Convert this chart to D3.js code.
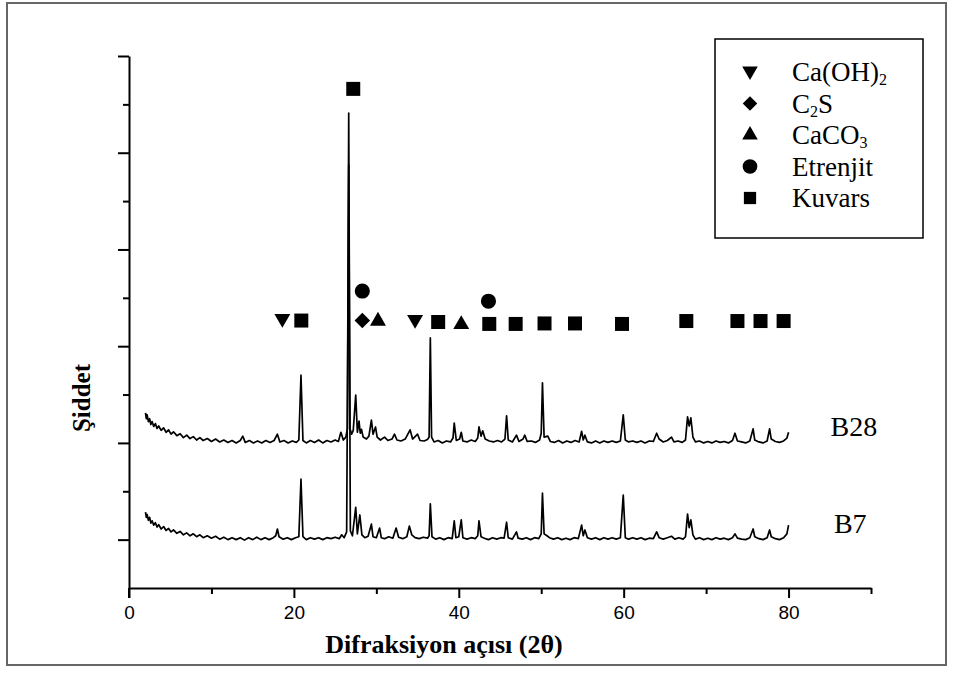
<!DOCTYPE html>
<html>
<head>
<meta charset="utf-8">
<script src="https://d3js.org/d3.v7.min.js"></script>
<style>
  body { margin: 0; background: #fff; }
</style>
</head>
<body>
<div id="my_dataviz"></div>
<script>
// XRD patterns, [2theta, counts]
var b7 = [
  [2.0,157],[2.1,146],[2.2,152],[2.35,140],[2.5,146],[2.65,134],[2.8,139],[3.0,130],[3.2,135],[3.4,126],[3.6,131],[3.9,122],[4.2,127],[4.5,119],[4.8,123],[5.1,116],[5.4,120],[5.8,113],[6.2,117],[6.6,110],[7.0,114],[7.4,108],[7.8,112],[8.2,106],[8.6,110],[9.0,104],[9.5,108],[10.0,103],[10.5,107],[11.0,101],[11.5,105],[12.0,100],[12.5,104],[13.0,100],[13.5,104],[14.0,99],[14.5,104],[15.0,100],[15.5,105],[16.0,100],[16.5,104],[17.0,100],[17.5,104],[17.8,108],[18.0,122],[18.2,106],[18.7,101],[19.2,104],[19.7,100],[20.2,104],[20.6,106],[20.86,225],[21.1,106],[21.5,100],[22.0,104],[22.5,101],[23.0,104],[23.5,100],[24.0,104],[24.5,102],[25.0,105],[25.5,102],[25.8,110],[26.1,104],[26.4,116],[26.65,875],[26.85,118],[27.1,108],[27.5,167],[27.7,112],[28.0,151],[28.25,110],[28.6,104],[29.0,107],[29.4,132],[29.6,106],[30.0,104],[30.4,124],[30.6,104],[31.0,102],[31.5,106],[32.0,103],[32.4,124],[32.7,105],[33.2,102],[33.7,106],[34.0,128],[34.3,110],[34.7,104],[35.2,102],[35.7,105],[36.2,103],[36.4,108],[36.55,174],[36.75,106],[37.2,101],[37.7,104],[38.2,100],[38.7,104],[39.2,102],[39.45,139],[39.65,104],[40.0,106],[40.3,141],[40.5,104],[41.0,101],[41.5,104],[42.0,102],[42.3,108],[42.45,139],[42.7,106],[43.1,103],[43.6,100],[44.1,104],[44.6,101],[45.1,104],[45.5,103],[45.8,136],[46.0,104],[46.5,101],[47.0,116],[47.2,103],[47.7,101],[48.2,104],[48.7,100],[49.2,104],[49.7,102],[50.0,112],[50.15,196],[50.35,112],[50.7,108],[51.0,104],[51.5,101],[52.0,104],[52.5,100],[53.0,103],[53.5,100],[54.0,104],[54.5,102],[54.9,130],[55.1,108],[55.3,120],[55.6,104],[56.1,101],[56.6,104],[57.1,100],[57.6,104],[58.1,101],[58.6,104],[59.1,101],[59.6,104],[59.95,192],[60.2,104],[60.6,101],[61.1,104],[61.6,101],[62.1,104],[62.6,100],[63.1,103],[63.6,102],[64.0,116],[64.3,104],[64.8,101],[65.3,104],[65.8,107],[66.2,101],[66.7,104],[67.2,101],[67.5,106],[67.75,153],[67.95,125],[68.15,141],[68.4,110],[68.7,101],[69.2,104],[69.7,100],[70.2,103],[70.7,100],[71.2,104],[71.7,101],[72.2,103],[72.7,100],[73.2,104],[73.5,112],[73.8,103],[74.3,101],[74.8,100],[75.3,104],[75.7,122],[75.9,106],[76.4,102],[76.9,100],[77.4,104],[77.7,120],[77.9,106],[78.4,102],[78.9,100],[79.4,104],[79.8,112],[80.0,130]
];
var b28 = [
  [2.0,362],[2.1,350],[2.2,358],[2.35,344],[2.5,350],[2.65,338],[2.8,344],[3.0,334],[3.2,340],[3.4,330],[3.6,335],[3.9,326],[4.2,331],[4.5,322],[4.8,327],[5.1,318],[5.4,323],[5.8,315],[6.2,319],[6.6,311],[7.0,316],[7.4,309],[7.8,313],[8.2,306],[8.6,311],[9.0,305],[9.5,309],[10.0,303],[10.5,308],[11.0,302],[11.5,306],[12.0,301],[12.5,305],[13.0,300],[13.5,305],[13.8,314],[14.1,301],[14.6,305],[15.1,300],[15.6,304],[16.1,300],[16.6,305],[17.1,301],[17.6,305],[18.0,318],[18.3,302],[18.8,305],[19.3,300],[19.8,304],[20.3,301],[20.6,306],[20.86,440],[21.1,305],[21.5,300],[22.0,305],[22.5,301],[23.0,306],[23.5,300],[24.0,305],[24.5,302],[25.0,306],[25.4,303],[25.7,322],[26.0,306],[26.3,312],[26.5,330],[26.65,982],[26.8,330],[27.0,318],[27.2,326],[27.5,399],[27.7,322],[27.9,345],[28.05,320],[28.2,328],[28.4,312],[28.8,308],[29.1,314],[29.4,347],[29.6,318],[29.9,333],[30.1,312],[30.5,306],[31.0,312],[31.4,305],[31.9,308],[32.2,318],[32.5,306],[33.0,304],[33.5,308],[34.1,327],[34.4,308],[35.0,318],[35.3,305],[35.8,304],[36.2,307],[36.4,312],[36.55,517],[36.7,312],[37.0,302],[37.5,305],[38.0,300],[38.5,304],[39.0,302],[39.3,310],[39.45,341],[39.7,305],[40.1,308],[40.3,322],[40.5,304],[41.0,302],[41.5,306],[42.0,303],[42.3,310],[42.45,333],[42.7,314],[42.9,325],[43.2,308],[43.7,304],[44.2,302],[44.7,305],[45.2,302],[45.6,308],[45.8,356],[46.0,306],[46.5,302],[47.0,316],[47.3,303],[47.8,308],[48.0,316],[48.3,303],[48.8,304],[49.3,301],[49.8,306],[50.0,320],[50.15,424],[50.35,312],[50.8,314],[51.1,303],[51.6,301],[52.1,305],[52.6,300],[53.1,304],[53.6,301],[54.1,305],[54.6,302],[54.9,324],[55.1,306],[55.3,316],[55.6,302],[56.1,300],[56.6,304],[57.1,300],[57.6,304],[58.1,301],[58.6,304],[59.1,301],[59.6,304],[59.95,358],[60.2,306],[60.6,302],[61.1,304],[61.6,301],[62.1,304],[62.6,300],[63.1,304],[63.6,303],[64.0,320],[64.3,308],[64.8,302],[65.3,305],[65.8,312],[66.1,302],[66.6,304],[67.1,301],[67.5,306],[67.75,354],[67.95,335],[68.15,352],[68.4,312],[68.7,302],[69.2,304],[69.7,300],[70.2,303],[70.7,300],[71.2,304],[71.7,301],[72.2,303],[72.7,300],[73.2,305],[73.5,320],[73.8,304],[74.3,302],[74.8,300],[75.3,304],[75.7,329],[75.9,306],[76.4,302],[76.9,300],[77.4,304],[77.7,329],[77.9,308],[78.4,303],[78.9,301],[79.4,304],[79.8,310],[80.0,322]
];

// phase markers, [2theta, counts]
var caoh2 = [[18.6, 553], [34.7, 551]];
var c2s = [[28.3, 553]];
var caco3 = [[30.2, 554], [40.3, 547]];
var etrenjit = [[28.3, 614], [43.6, 593]];
var kuvars = [[27.2, 1032], [20.9, 553], [37.5, 550], [43.7, 546], [46.9, 546], [50.4, 547],
              [54.1, 547], [59.8, 546], [67.6, 552], [73.8, 552], [76.6, 552], [79.4, 552]];

var xTicks = [0, 20, 40, 60, 80];
var xMinor = [10, 30, 50, 70, 90];
var yTicks = [100, 300, 500, 700, 900, 1100];
var yMinor = [200, 400, 600, 800, 1000];

var legendNames = [["Ca(OH)", "2", ""], ["C", "2", "S"], ["CaCO", "3", ""], ["Etrenjit", "", ""], ["Kuvars", "", ""]];

// set the dimensions and margins of the graph
var margin = { top: 56, right: 83, bottom: 85, left: 129 },
    width = 954 - margin.left - margin.right,
    height = 673 - margin.top - margin.bottom;

var root = d3.select("#my_dataviz")
    .append("svg")
    .attr("width", 954)
    .attr("height", 673);

// outer frame
root.append("rect")
    .attr("x", 7).attr("y", 3)
    .attr("width", 939).attr("height", 662)
    .attr("fill", "none")
    .attr("stroke", "#666")
    .attr("stroke-width", 2);

var svg = root.append("g")
    .attr("transform", "translate(" + margin.left + "," + margin.top + ")");

var x = d3.scaleLinear().domain([0, 90]).range([0, width]);
var y = d3.scaleLinear().domain([0, 1100]).range([height, 0]);

// X axis, major + minor ticks
svg.append("g")
    .attr("transform", "translate(0," + height + ")")
    .call(d3.axisBottom(x).tickValues(xMinor).tickSize(6).tickFormat("").tickSizeOuter(0))
    .call(function (g) { g.select(".domain").remove(); });
var xa = svg.append("g")
    .attr("transform", "translate(0," + height + ")")
    .call(d3.axisBottom(x).tickValues(xTicks).tickSize(10).tickPadding(8).tickSizeOuter(0));
xa.selectAll("text")
    .attr("font-family", "Liberation Sans, Arial, sans-serif")
    .attr("font-size", 19)
    .attr("fill", "#000");

// Y axis, no labels
svg.append("g")
    .call(d3.axisLeft(y).tickValues(yMinor).tickSize(6).tickFormat("").tickSizeOuter(0))
    .call(function (g) { g.select(".domain").remove(); });
svg.append("g")
    .call(d3.axisLeft(y).tickValues(yTicks).tickSize(11).tickFormat("").tickSizeOuter(0));

svg.selectAll(".domain, .tick line")
    .attr("stroke", "#000")
    .attr("stroke-width", 2);
// y axis line runs down to the bottom of the 0 tick
svg.append("line")
    .attr("x1", 0).attr("x2", 0)
    .attr("y1", height).attr("y2", height + 10)
    .attr("stroke", "#000").attr("stroke-width", 2);

svg.append("text")
    .attr("text-anchor", "middle")
    .attr("x", 315)
    .attr("y", height + 65)
    .attr("font-family", "Liberation Serif, Times New Roman, serif")
    .attr("font-weight", "bold")
    .attr("font-size", 26)
    .text("Difraksiyon açısı (2θ)");

svg.append("text")
    .attr("text-anchor", "middle")
    .attr("transform", "translate(-39," + 342 + ") rotate(-90)")
    .attr("font-family", "Liberation Serif, Times New Roman, serif")
    .attr("font-weight", "bold")
    .attr("font-size", 25)
    .text("Şiddet");

// the patterns
var line = d3.line()
    .x(function (d) { return x(d[0]) })
    .y(function (d) { return y(d[1]) });

[b7, b28].forEach(function (s) {
    svg.append("path")
        .datum(s)
        .attr("fill", "none")
        .attr("stroke", "#000")
        .attr("stroke-width", 1.7)
        .attr("stroke-linejoin", "round")
        .attr("d", line);
});

var serif = "Liberation Serif, Times New Roman, serif";
svg.append("text").attr("x", x(85.1)).attr("y", y(315))
    .attr("font-family", serif).attr("font-size", 28).text("B28");
svg.append("text").attr("x", x(85.5)).attr("y", y(113))
    .attr("font-family", serif).attr("font-size", 28).text("B7");

// marker shapes
var shapes = [
    { data: caoh2, type: d3.symbolTriangle, size: 110, rot: 180, dy: -2 },
    { data: c2s, type: d3.symbolSquare, size: 120, rot: 45, dy: 0 },
    { data: caco3, type: d3.symbolTriangle, size: 110, rot: 0, dy: 1 },
    { data: etrenjit, type: d3.symbolCircle, size: 180, rot: 0, dy: 0 },
    { data: kuvars, type: d3.symbolSquare, size: 196, rot: 0, dy: 0 }
];

shapes.forEach(function (s) {
    svg.append("g")
        .selectAll("path")
        .data(s.data)
        .enter()
        .append("path")
        .attr("d", d3.symbol().type(s.type).size(s.size))
        .attr("transform", function (d) {
            return "translate(" + x(d[0]) + "," + (y(d[1]) + s.dy) + ") rotate(" + s.rot + ")";
        })
        .attr("fill", "#000");
});

// legend
var lg = root.append("g").attr("transform", "translate(715,39)");
lg.append("rect")
    .attr("width", 208).attr("height", 199)
    .attr("fill", "#fff")
    .attr("stroke", "#000")
    .attr("stroke-width", 1.5);

var legendSize = [105, 105, 105, 170, 150];
legendNames.forEach(function (n, i) {
    var cy = 33 + i * 31.5;
    var s = shapes[i];
    lg.append("path")
        .attr("d", d3.symbol().type(s.type).size(legendSize[i]))
        .attr("transform", "translate(35," + (cy + (i == 0 ? -1 : 0)) + ") rotate(" + s.rot + ")")
        .attr("fill", "#000");
    var t = lg.append("text")
        .attr("x", 77)
        .attr("y", cy + 9)
        .attr("font-family", serif)
        .attr("font-size", 27);
    t.append("tspan").text(n[0]);
    if (n[1]) {
        t.append("tspan").attr("font-size", 16).attr("dy", 4).text(n[1]);
        if (n[2]) t.append("tspan").attr("dy", -4).text(n[2]);
    }
});
</script>
</body>
</html>
